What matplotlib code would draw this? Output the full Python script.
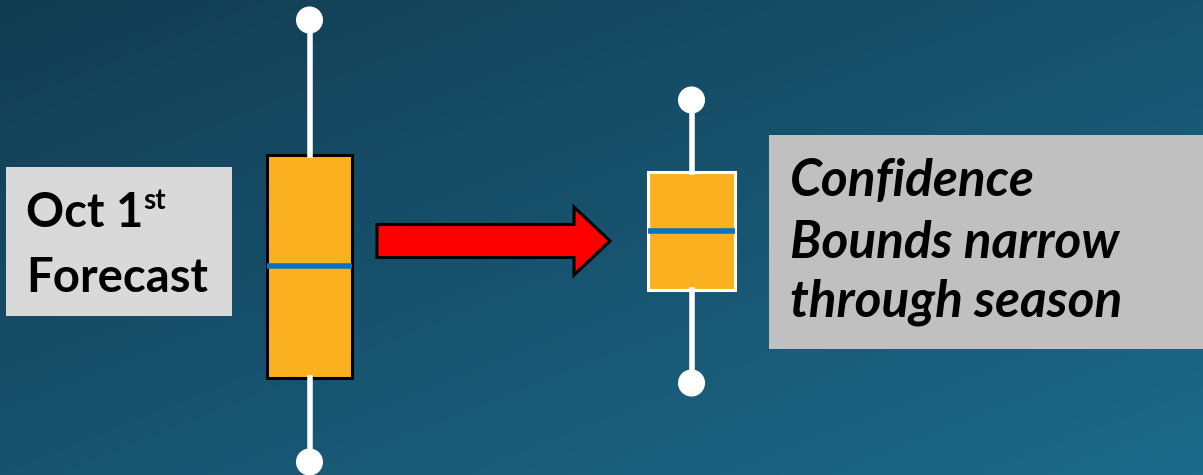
import numpy as np
import matplotlib
matplotlib.use("Agg")
import matplotlib.pyplot as plt
from matplotlib.patches import Rectangle, FancyArrow
from matplotlib.colors import LinearSegmentedColormap

# ---- data (value scale: 0 = bottom of figure, 475 = top) ----
labels = ["Oct 1st Forecast", "Later in season"]
whisker_high = [455, 375]
q3 = [320, 303]
medians = [209, 244]
q1 = [97, 185]
whisker_low = [13, 92]

positions = [309.5, 691.5]
widths = [85, 87]
box_edge = ["black", "white"]

W, H = 1203, 475
fig = plt.figure(figsize=(W / 100, H / 100), dpi=100)
ax = fig.add_axes([0, 0, 1, 1])
ax.set_xlim(0, W)
ax.set_ylim(0, H)
ax.axis("off")

# gradient background (dark top-left -> lighter bottom-right)
xx, yy = np.meshgrid(np.linspace(0, 1, 300), np.linspace(0, 1, 120))
g = 0.5 * xx + 0.5 * yy
cmap = LinearSegmentedColormap.from_list("bg", ["#123C52", "#1C6A8A"])
ax.imshow(g, cmap=cmap, extent=[0, W, 0, H], origin="upper", aspect="auto", zorder=0)

# boxplots
for i in range(2):
    stats = [dict(med=medians[i], q1=q1[i], q3=q3[i], whislo=whisker_low[i],
                  whishi=whisker_high[i], fliers=[], label=labels[i])]
    ax.bxp(stats, positions=[positions[i]], widths=[widths[i]], patch_artist=True,
           showcaps=False, showfliers=False, manage_ticks=False,
           boxprops=dict(facecolor="#FBB020", edgecolor=box_edge[i], linewidth=2.2),
           medianprops=dict(color="#0A72C0", linewidth=4, solid_capstyle="butt"),
           whiskerprops=dict(color="white", linewidth=4))
    ax.scatter([positions[i]] * 2, [whisker_low[i], whisker_high[i]], s=380,
               color="white", zorder=3, edgecolors="none")

# arrow
arrow = FancyArrow(377, 234, 233, 0, width=33, head_width=68, head_length=36,
                   length_includes_head=True, facecolor="#FF0000", edgecolor="black",
                   linewidth=2.2, zorder=3)
ax.add_patch(arrow)

# left text box
ax.add_patch(Rectangle((6, H - 316), 226, 149, facecolor="#D9D9D9", edgecolor="none", zorder=2))
font = "Lato"
t1 = ax.text(26, H - 227, "Oct 1", fontsize=34, fontweight="bold", family=font,
             color="black", va="baseline", zorder=4)
ax.annotate("st", xy=(1, 1), xycoords=t1, xytext=(0, -13), textcoords="offset points",
            fontsize=20, fontweight="bold", family=font, color="black",
            ha="left", va="baseline", zorder=4)
ax.text(26, H - 292, "Forecast", fontsize=34, fontweight="bold", family=font,
        color="black", va="baseline", zorder=4)

# right text box
ax.add_patch(Rectangle((769, H - 349), W - 769, 214, facecolor="#C0C0C0", edgecolor="none", zorder=2))
for txt, yb in zip(["Confidence", "Bounds narrow", "through season"], [196, 258, 316]):
    ax.text(790, H - yb, txt, fontsize=37, fontweight="bold", style="italic", family=font,
            color="black", va="baseline", zorder=4)

fig.savefig("out.png", dpi=100)
